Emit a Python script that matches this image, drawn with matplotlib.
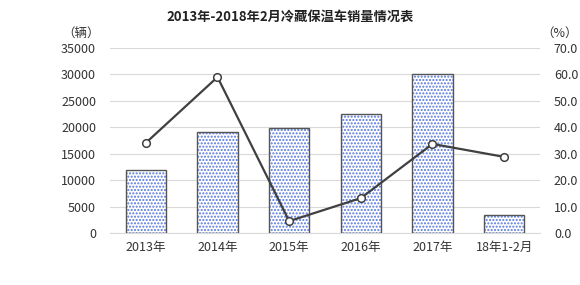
import matplotlib
matplotlib.use("Agg")
import matplotlib.pyplot as plt
import numpy as np

plt.rcParams['font.family'] = ['Noto Sans CJK SC', 'DejaVu Sans']
plt.rcParams['hatch.linewidth'] = 1.0

categories = ['2013年', '2014年', '2015年', '2016年', '2017年', '18年1-2月']
sales = [12000, 19100, 19900, 22500, 30100, 3400]
growth = [34.1, 59.0, 4.5, 13.2, 33.7, 28.8]
left_ticks = [0, 5000, 10000, 15000, 20000, 25000, 30000, 35000]
right_ticks = [0, 10, 20, 30, 40, 50, 60, 70]

fig = plt.figure(figsize=(5.8, 2.85), dpi=100)
ax = fig.add_axes([110/580, 1-233/285, (540-110)/580, (233-48)/285])
x = np.arange(len(categories))
ax.bar(x, sales, width=0.56, color='white', edgecolor='#5577dd', hatch='.....', linewidth=0, zorder=2)
ax.bar(x, sales, width=0.56, color='none', edgecolor='#555555', linewidth=1.0, zorder=3)
ax.set_ylim(0, 35000)
ax.set_xlim(-0.5, len(categories)-0.5)
ax.set_yticks(left_ticks)
ax.set_yticklabels([str(v) for v in left_ticks])
ax.set_xticks(x)
ax.set_xticklabels(categories)
ax.grid(axis='y', color='#d9d9d9', linewidth=0.8, zorder=0)
ax.set_axisbelow(True)
for s in ['top', 'left', 'right']:
    ax.spines[s].set_visible(False)
ax.spines['bottom'].set_color('#d9d9d9')
ax.tick_params(length=0, labelsize=9, colors='#333333')
ax.tick_params(axis='y', pad=10)
ax.tick_params(axis='x', pad=6)

ax2 = ax.twinx()
ax2.plot(x, growth, color='#404040', linewidth=1.6, marker='o', markersize=5.5,
         markerfacecolor='white', markeredgecolor='#404040', markeredgewidth=1.1, zorder=5)
ax2.set_ylim(0, 70)
ax2.set_yticks(right_ticks)
ax2.set_yticklabels([f'{v:.1f}' for v in right_ticks])
for s in ['top', 'left', 'right', 'bottom']:
    ax2.spines[s].set_visible(False)
ax2.tick_params(length=0, labelsize=9, colors='#333333', pad=10)

fig.text(0.5, 1-17/285, '2013年-2018年2月冷藏保温车销量情况表', ha='center', va='center',
         fontsize=9.5, fontweight='bold', color='#222222')
fig.text(62/580, 1-33/285, '（辆）', ha='left', va='center', fontsize=9, color='#333333')
fig.text(578/580, 1-33/285, '（%）', ha='right', va='center', fontsize=9, color='#333333')

fig.savefig('out.png', dpi=100)
